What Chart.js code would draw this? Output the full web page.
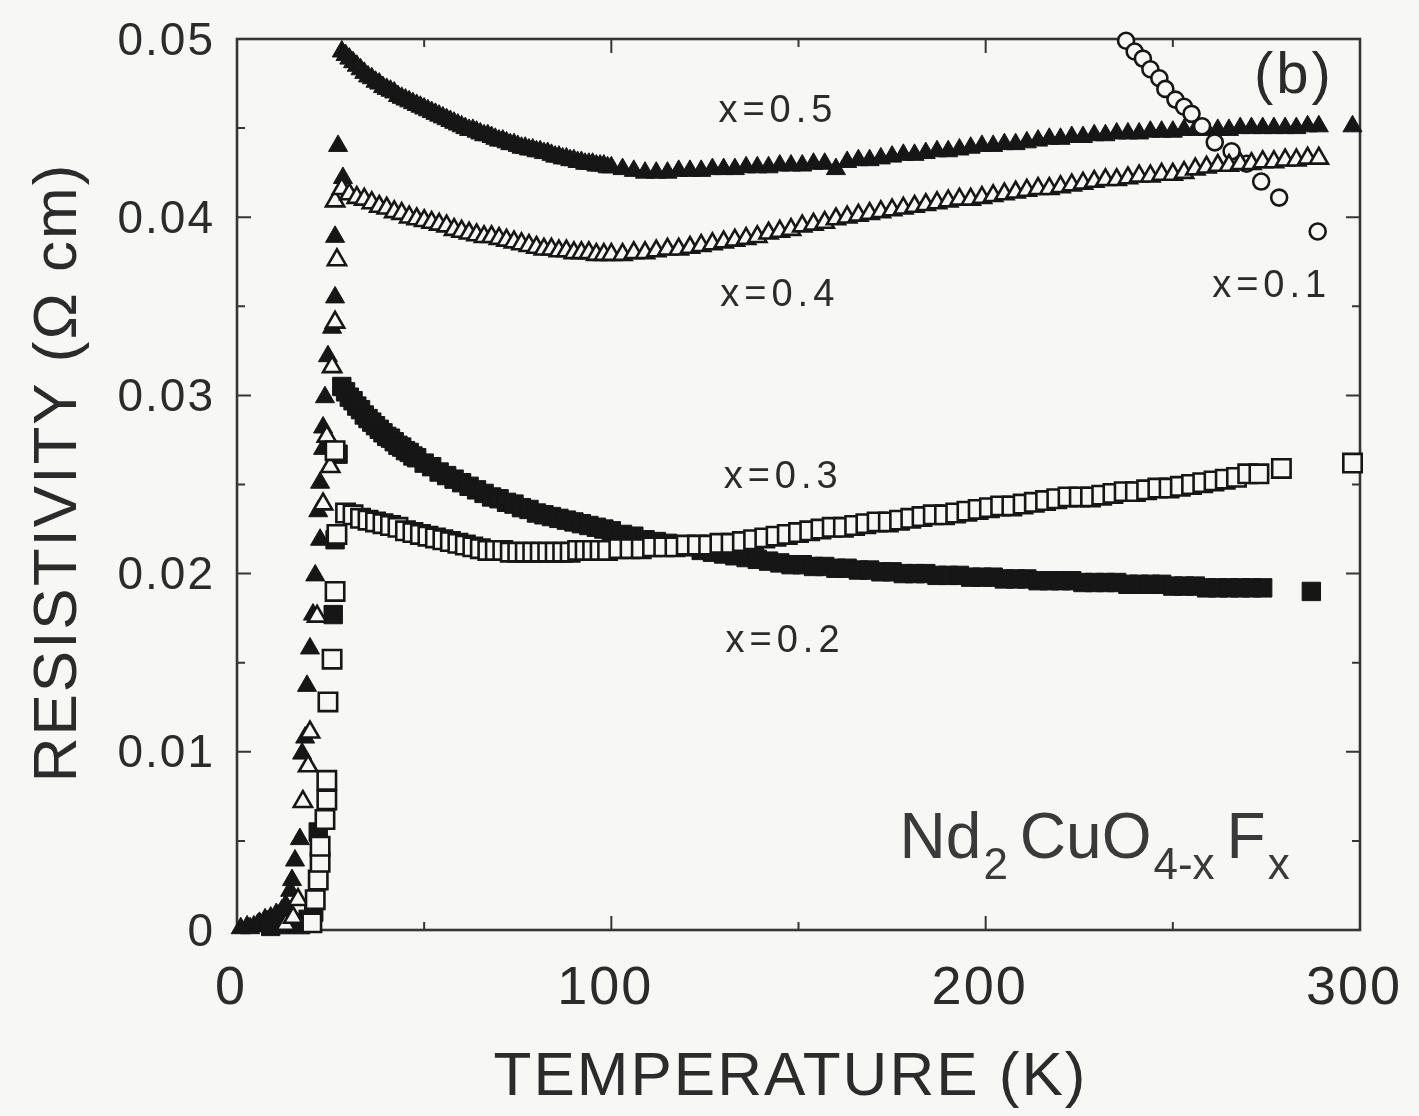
<!DOCTYPE html>
<html lang="en">
<head>
<meta charset="UTF-8">
<title>Nd2CuO4-xFx resistivity</title>
<script src="https://cdn.jsdelivr.net/npm/chart.js@4/dist/chart.umd.min.js"></script>
<style>
  html, body { margin: 0; padding: 0; background: #f7f7f5; }
  canvas { display: block; }
</style>
</head>
<body>
<canvas id="rho" width="1419" height="1116"></canvas>
<script>
// resistivity (ohm cm) vs temperature (K), one [T, rho] list per fluorine content

// x = 0.5, filled triangles (drop at Tc first, then normal state)
const x05 = [
  [1, .0001], [2.7, .0002], [3.5, .0001], [4.5, .0002], [5.5, .0003], [6, .0004], [7.5, .0006],
  [8, .0005], [9, .0007], [10.5, .0009], [11, .0008], [12, .0011], [12.5, .0010], [13, .0014],
  [14.2, .0022], [14.7, .0028], [15.5, .0039], [16.8, .0051],
  [17.4, .0099], [18.2, .0108], [18.7, .0137], [19.5, .0158], [20.3, .0177], [20.9, .0199],
  [22.2, .0219], [21.7, .0235], [22.2, .0251], [23, .0270], [23, .0282], [23.5, .0299],
  [24.3, .0322], [25.4, .0338], [26.2, .0355], [26.2, .0389], [27, .0440], [28.3, .0422],
  [28, .0493], [29, .0491], [30, .0489], [31, .0487], [32, .0485], [33, .0483], [34, .0481],
  [35, .0479], [36, .0478], [37, .0476], [38, .0475], [39, .0473], [40, .0472], [41, .0471],
  [42, .0470], [43, .0468], [44, .0467], [45, .0466], [46, .0465], [47, .0464], [48, .0463],
  [49, .0462], [50, .0461], [51, .0460], [52, .0459], [53, .0458], [54, .0457], [55, .0456],
  [56, .0455], [57, .0454], [58, .0453], [59, .0452], [60, .0451], [61, .0450], [62, .0449],
  [63, .0449], [64, .0448], [65, .0447], [66, .0446], [67, .0446], [68, .0445], [69, .0444],
  [70, .0443], [71, .0443], [72, .0442], [73, .0441], [74, .0441], [75, .0440], [76, .0439],
  [77, .0439], [78, .0438], [79, .0438], [80, .0437], [81, .0437], [82, .0436], [83, .0436],
  [84, .0435], [85, .0434], [86, .0434], [87, .0433], [88, .0433], [89, .0432], [90, .0432],
  [91, .0431], [92, .0431], [93, .0430], [94, .0430], [95, .0430], [96, .0429], [97, .0429],
  [98, .0429], [99, .0428], [100, .0428], [103, .0427], [106, .0426], [109, .0425], [112, .0425],
  [115, .0425], [118, .0426], [121, .0426], [124, .0426], [127, .0427], [130, .0427],
  [133, .0427], [136, .0428], [139, .0428], [142, .0428], [145, .0429], [148, .0429],
  [151, .0429], [154, .0430], [157, .0430], [160, .0427], [163, .0431], [166, .0432],
  [169, .0432], [172, .0433], [175, .0434], [178, .0435], [181, .0435], [184, .0436],
  [187, .0437], [190, .0437], [193, .0438], [196, .0439], [199, .0440], [202, .0440],
  [205, .0441], [208, .0441], [211, .0442], [214, .0443], [217, .0444], [220, .0444],
  [223, .0445], [226, .0445], [229, .0446], [232, .0446], [235, .0447], [238, .0447],
  [241, .0447], [244, .0448], [247, .0448], [250, .0448], [253, .0449], [256, .0449],
  [259, .0449], [262, .0449], [265, .0449], [268, .0450], [271, .0450], [274, .0450],
  [277, .0450], [280, .0450], [283, .0450], [286, .0451], [289, .0451], [298, .0451]
];

// x = 0.4, open triangles
const x04 = [
  [13, .0003], [15, .0007], [16.3, .0017], [17.6, .0072], [19, .0092], [19.5, .0111],
  [21.4, .0176], [23, .0239], [24.9, .0260], [24, .0277], [25.4, .0316], [26.2, .0341],
  [26.7, .0376], [26.2, .0409],
  [28, .0416], [30, .0413], [32, .0411], [34, .0410], [36, .0408], [38, .0406], [40, .0405],
  [42, .0403], [44, .0402], [46, .0400], [48, .0399], [50, .0398], [52, .0397], [54, .0396],
  [56, .0395], [58, .0393], [60, .0392], [62, .0391], [64, .0390], [66, .0389], [68, .0389],
  [70, .0388], [72, .0387], [74, .0386], [76, .0385], [78, .0384], [80, .0383], [82, .0382],
  [84, .0382], [86, .0381], [88, .0381], [90, .0380], [92, .0380], [94, .0380], [96, .0379],
  [98, .0379], [100, .0379], [103, .0379], [106, .0380], [109, .0380], [112, .0381],
  [115, .0382], [118, .0382], [121, .0383], [124, .0384], [127, .0385], [130, .0386],
  [133, .0387], [136, .0388], [139, .0389], [142, .0391], [145, .0392], [148, .0393],
  [151, .0395], [154, .0396], [157, .0397], [160, .0399], [163, .0400], [166, .0401],
  [169, .0402], [172, .0403], [175, .0404], [178, .0405], [181, .0406], [184, .0407],
  [187, .0408], [190, .0409], [193, .0410], [196, .0410], [199, .0411], [202, .0412],
  [205, .0413], [208, .0414], [211, .0415], [214, .0416], [217, .0416], [220, .0417],
  [223, .0418], [226, .0419], [229, .0420], [232, .0421], [235, .0421], [238, .0422],
  [241, .0423], [244, .0423], [247, .0424], [250, .0424], [253, .0425], [256, .0427],
  [259, .0428], [262, .0429], [265, .0429], [268, .0430], [271, .0430], [274, .0431],
  [277, .0431], [280, .0432], [283, .0432], [286, .0433], [289, .0433]
];

// x = 0.3, open squares
const x03 = [
  [20, .0004], [20.9, .0017], [21.7, .0028], [22.2, .0038], [22.2, .0047], [23.5, .0062],
  [24, .0073], [24, .0084], [24.3, .0128], [25.4, .0152], [26.2, .0190], [26.7, .0222],
  [26.2, .0269],
  [29, .0234], [31, .0233], [33, .0231], [35, .0230], [37, .0229], [39, .0228], [41, .0227],
  [43, .0226], [45, .0224], [47, .0223], [49, .0222], [51, .0221], [53, .0220], [55, .0219],
  [57, .0218], [59, .0217], [61, .0216], [63, .0215], [65, .0214], [67, .0213], [69, .0213],
  [71, .0213], [73, .0212], [75, .0212], [77, .0212], [79, .0212], [81, .0212], [83, .0212],
  [85, .0212], [87, .0212], [89, .0212], [91, .0213], [93, .0213], [95, .0213], [97, .0213],
  [99, .0213], [102, .0214], [105, .0214], [108, .0214], [111, .0215], [114, .0215],
  [117, .0215], [120, .0216], [123, .0216], [126, .0216], [129, .0217], [132, .0217],
  [135, .0218], [138, .0219], [141, .0220], [144, .0221], [147, .0222], [150, .0223],
  [153, .0224], [156, .0225], [159, .0226], [162, .0226], [165, .0227], [168, .0228],
  [171, .0229], [174, .0229], [177, .0230], [180, .0231], [183, .0232], [186, .0233],
  [189, .0233], [192, .0234], [195, .0235], [198, .0236], [201, .0237], [204, .0238],
  [207, .0238], [210, .0239], [213, .0240], [216, .0241], [219, .0242], [222, .0243],
  [225, .0243], [228, .0243], [231, .0244], [234, .0245], [237, .0246], [240, .0246],
  [243, .0247], [246, .0248], [249, .0248], [252, .0249], [255, .0250], [258, .0251],
  [261, .0252], [264, .0253], [267, .0254], [270, .0256], [273, .0256], [279, .0259],
  [298, .0262]
];

// x = 0.2, filled squares
const x02 = [
  [9, .0002], [12, .0003], [15, .0004], [17, .0003], [19, .0006], [20.5, .0010], [21.7, .0055],
  [25.7, .0177], [26.2, .0219], [27, .0267],
  [28, .0305], [29, .0302], [30, .0299], [31, .0297], [32, .0294], [33, .0292], [34, .0289],
  [35, .0287], [36, .0285], [37, .0283], [38, .0281], [39, .0279], [40, .0277], [41, .0276],
  [42, .0274], [43, .0272], [44, .0271], [45, .0269], [46, .0268], [47, .0266], [48, .0265],
  [50, .0262], [52, .0260], [54, .0257], [56, .0255], [58, .0253], [60, .0251], [62, .0249],
  [64, .0247], [66, .0245], [68, .0243], [70, .0242], [72, .0240], [74, .0239], [76, .0237],
  [78, .0236], [80, .0234], [82, .0233], [84, .0232], [86, .0231], [88, .0230], [90, .0229],
  [92, .0228], [94, .0227], [96, .0226], [98, .0225], [100, .0224], [103, .0222],
  [106, .0221], [109, .0219], [112, .0218], [115, .0217], [118, .0216], [121, .0215],
  [124, .0213], [127, .0212], [130, .0211], [133, .0210], [136, .0209], [139, .0208],
  [142, .0207], [145, .0206], [148, .0205], [151, .0205], [154, .0204], [157, .0204],
  [160, .0203], [163, .0203], [166, .0202], [169, .0202], [172, .0201], [175, .0201],
  [178, .0200], [181, .0200], [184, .0200], [187, .0199], [190, .0199], [193, .0199],
  [196, .0198], [199, .0198], [202, .0198], [205, .0197], [208, .0197], [211, .0197],
  [214, .0196], [217, .0196], [220, .0196], [223, .0196], [226, .0195], [229, .0195],
  [232, .0195], [235, .0195], [238, .0194], [241, .0194], [244, .0194], [247, .0194],
  [250, .0193], [253, .0193], [256, .0193], [259, .0192], [262, .0192], [265, .0192],
  [268, .0192], [271, .0192], [274, .0192], [287, .0190]
];

// x = 0.1, open circles (only the part below 0.05 ohm cm is on scale)
const x01 = [
  [237.5, .0499], [239.8, .0493], [242, .0489], [244, .0483], [246.4, .0478], [248, .0472],
  [250.7, .0466], [253, .0462], [255, .0458], [257.8, .0451], [261.2, .0442], [265.7, .0437],
  [269.7, .0430], [273.6, .0420], [278.4, .0411], [288.7, .0392]
];

const xTickLabels = ['0', '100', '200', '300'];
const yTickLabels = ['0', '0.01', '0.02', '0.03', '0.04', '0.05'];
const sampleLabels = ['x=0.5', 'x=0.4', 'x=0.3', 'x=0.2', 'x=0.1'];

const paper = '#f7f7f5';
const ink = '#2b2b2b';
const mark = '#161616';
const face = '"Liberation Sans", Arial, Helvetica, sans-serif';

const toPoints = list => list.map(p => ({ x: p[0], y: p[1] }));

function series(list, style, radius, filled) {
  return {
    data: toPoints(list),
    pointStyle: style,
    pointRadius: radius,
    pointBackgroundColor: filled ? mark : paper,
    pointBorderColor: mark,
    pointBorderWidth: filled ? 1 : 2.6,
    showLine: false,
    clip: false
  };
}

// frame, inward ticks and all the lettering
const decor = {
  id: 'decor',
  beforeDraw(chart) {
    const ctx = chart.ctx;
    ctx.save();
    ctx.fillStyle = paper;
    ctx.fillRect(0, 0, chart.width, chart.height);
    ctx.restore();
  },
  beforeDatasetsDraw(chart) {
    const { ctx, chartArea: a, scales: { x, y } } = chart;
    ctx.save();
    ctx.strokeStyle = '#363636';
    ctx.lineWidth = 2.6;
    ctx.strokeRect(a.left, a.top, a.right - a.left, a.bottom - a.top);
    ctx.lineWidth = 2;
    ctx.beginPath();
    for (let k = 0; k <= 6; k++) {
      const px = x.getPixelForValue(k * 50);
      const len = k % 2 === 0 ? 14 : 8;
      ctx.moveTo(px, a.bottom); ctx.lineTo(px, a.bottom - len);
      ctx.moveTo(px, a.top); ctx.lineTo(px, a.top + len);
    }
    for (let k = 0; k <= 10; k++) {
      const py = y.getPixelForValue(k * 0.005);
      const len = k % 2 === 0 ? 14 : 8;
      ctx.moveTo(a.left, py); ctx.lineTo(a.left + len, py);
      ctx.moveTo(a.right, py); ctx.lineTo(a.right - len, py);
    }
    ctx.stroke();
    ctx.restore();
  },
  afterDraw(chart) {
    const { ctx, chartArea: a, scales: { x, y } } = chart;
    ctx.save();
    ctx.fillStyle = ink;

    // tick labels
    ctx.font = '46px ' + face;
    ctx.letterSpacing = '2px';
    ctx.textAlign = 'right';
    ctx.textBaseline = 'middle';
    y.ticks.forEach((t, i) => {
      ctx.fillText(yTickLabels[i], a.left - 22, y.getPixelForValue(t.value) + 3);
    });
    ctx.font = '54px ' + face;
    ctx.textAlign = 'center';
    ctx.textBaseline = 'alphabetic';
    x.ticks.forEach((t, i) => {
      ctx.fillText(xTickLabels[i], x.getPixelForValue(t.value) - 6, a.bottom + 74);
    });

    // axis titles
    ctx.font = '62px ' + face;
    ctx.fillText('TEMPERATURE (K)', (a.left + a.right) / 2 - 8, a.bottom + 165);
    ctx.save();
    ctx.translate(76, (a.top + a.bottom) / 2 - 12);
    ctx.rotate(-Math.PI / 2);
    ctx.fillText('RESISTIVITY (\u03A9 cm)', 0, 0);
    ctx.restore();

    // sample labels, anchored in data units
    ctx.font = '38px ' + face;
    ctx.letterSpacing = '5px';
    ctx.textAlign = 'left';
    const spots = [[128.6, .04534], [129.1, .0350], [130, .02483], [130.5, .01562], [260.5, .0355]];
    sampleLabels.forEach((s, i) => {
      ctx.fillText(s, x.getPixelForValue(spots[i][0]), y.getPixelForValue(spots[i][1]));
    });

    // panel letter
    ctx.font = '58px ' + face;
    ctx.letterSpacing = '3px';
    ctx.textAlign = 'right';
    ctx.fillText('(b)', x.getPixelForValue(293), y.getPixelForValue(.04697));

    // compound formula with subscripts
    ctx.letterSpacing = '0px';
    ctx.textAlign = 'left';
    ctx.fillStyle = '#3a3a3a';
    let cx = x.getPixelForValue(177);
    const base = y.getPixelForValue(.00404);
    [['Nd', false], ['2', true], ['CuO', false], ['4-x', true], ['F', false], ['x', true]].forEach(([txt, sub]) => {
      ctx.font = (sub ? '44px ' : '64px ') + face;
      ctx.fillText(txt, cx, sub ? base + 21 : base);
      cx += ctx.measureText(txt).width + (sub ? 12 : 2);
    });
    ctx.restore();
  }
};

new Chart(document.getElementById('rho'), {
  type: 'scatter',
  data: {
    datasets: [
      series(x03, 'rect', 13, false),
      series(x04, 'triangle', 10.5, false),
      series(x01, 'circle', 8, false),
      series(x02, 'rect', 13, true),
      series(x05, 'triangle', 11, true)
    ]
  },
  options: {
    responsive: false,
    animation: false,
    events: [],
    layout: { padding: { top: 39, right: 59, left: 0, bottom: 0 } },
    plugins: { legend: { display: false }, tooltip: { enabled: false } },
    scales: {
      x: {
        type: 'linear', min: 0, max: 300,
        ticks: { display: false, stepSize: 100 },
        grid: { display: false }, border: { display: false },
        afterFit: s => { s.height = 186; }
      },
      y: {
        type: 'linear', min: 0, max: 0.05,
        ticks: { display: false, stepSize: 0.01 },
        grid: { display: false }, border: { display: false },
        afterFit: s => { s.width = 237; }
      }
    }
  },
  plugins: [decor]
});
</script>
</body>
</html>
